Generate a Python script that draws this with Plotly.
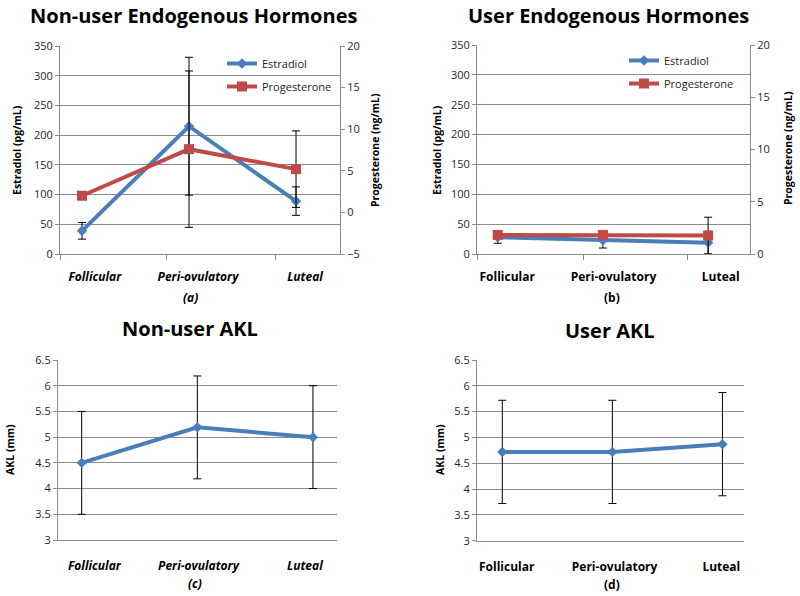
import plotly.graph_objects as go

W, H = 800, 596
phases = ["Follicular", "Peri-ovulatory", "Luteal"]
xi = [0, 1, 2]

# Panel (a) non-user hormones
estr_a = [39, 215, 89]
estr_a_err = [14, 116, 24]
prog_a = [2.0, 7.6, 5.2]
prog_a_err = [0, 9.4, 4.6]
# Panel (b) user hormones
estr_b = [28, 23, 19]
estr_b_err = [10, 13, 19]
prog_b = [1.83, 1.83, 1.76]
prog_b_err = [0, 0, 1.76]
# Panel (c)/(d) AKL
akl_c = [4.5, 5.19, 5.0]
akl_c_err = [1.0, 1.0, 1.0]
akl_d = [4.72, 4.72, 4.87]
akl_d_err = [1.0, 1.0, 1.0]

BLUE = "#4a7ebb"
RED = "#be4b48"
GRID = "#8c8c8c"
TXT = "#262626"
FONT = "Open Sans"


def px(x):
    return x / W


def py(y):
    return 1 - y / H


fig = go.Figure()


def add_line(x, y, err, name, color, symbol, msize, xa, ya, legend, showlegend):
    fig.add_trace(go.Scatter(
        x=x, y=y, name=name, mode="lines+markers",
        line=dict(color=color, width=4),
        marker=dict(color=color, symbol=symbol, size=msize),
        error_y=dict(type="data", array=err, color="black", thickness=1, width=4),
        xaxis=xa, yaxis=ya, legend=legend, showlegend=showlegend,
        legendgroup=name + legend,
    ))


add_line(xi, estr_a, estr_a_err, "Estradiol", BLUE, "diamond", 8, "x", "y", "legend", True)
add_line(xi, prog_a, prog_a_err, "Progesterone", RED, "square", 10, "x", "y2", "legend", True)
add_line(xi, estr_b, estr_b_err, "Estradiol", BLUE, "diamond", 8, "x2", "y3", "legend2", True)
add_line(xi, prog_b, prog_b_err, "Progesterone", RED, "square", 10, "x2", "y4", "legend2", True)
add_line(xi, akl_c, akl_c_err, "AKL", BLUE, "diamond", 8, "x3", "y5", "legend", False)
add_line(xi, akl_d, akl_d_err, "AKL", BLUE, "diamond", 8, "x4", "y6", "legend", False)

tickfont = dict(family=FONT, size=11, color=TXT)


def xaxis(dom, rng, labvals, minor, italic, standoff, anchor):
    d = dict(
        domain=dom, range=rng, anchor=anchor, tickmode="array", tickvals=labvals,
        ticktext=phases, automargin=False,
        showgrid=False, zeroline=False, showline=True, linecolor=GRID, linewidth=1,
        ticks="", ticklabelstandoff=standoff,
        tickfont=dict(family=FONT, size=12, color="black", weight="bold",
                      style="italic" if italic else "normal"),
    )
    if minor:
        d["minor"] = dict(tickmode="array", tickvals=minor, ticks="outside", ticklen=5,
                          tickcolor=GRID, showgrid=False)
    return d


def yaxis(dom, rng, dtick, anchor, grid=True, side="left", overlay=None):
    d = dict(
        range=rng, dtick=dtick, tick0=rng[0], anchor=anchor, side=side,
        automargin=False,
        showgrid=grid, gridcolor=GRID, gridwidth=1, zeroline=False,
        showline=True, linecolor=GRID, linewidth=1,
        ticks="outside", ticklen=4, tickcolor=GRID, tickfont=tickfont,
    )
    if overlay:
        d["overlaying"] = overlay
    else:
        d["domain"] = dom
    return d


ya_dom = [py(254), py(46)]
yb_dom = [py(254), py(45)]
yc_dom = [py(540), py(360)]
yd_dom = [py(540.7), py(360)]

fig.update_layout(
    width=W, height=H, margin=dict(l=0, r=0, t=0, b=0, pad=0, autoexpand=False),
    paper_bgcolor="white", plot_bgcolor="white",
    xaxis=xaxis([px(60), px(340)], [-0.2056, 2.411], [0.12, 1.084, 2.084],
                [-0.2056, 0.794, 1.804], True, 12, "y"),
    yaxis=yaxis(ya_dom, [0, 350], 50, "x"),
    yaxis2=yaxis(None, [-5, 20], 5, "x", grid=False, side="right", overlay="y"),
    xaxis2=xaxis([px(477), px(750)], [-0.197, 2.398], [0.09, 1.1, 2.12],
                 [-0.197, 0.811, 1.80], False, 12, "y3"),
    yaxis3=yaxis(yb_dom, [0, 350], 50, "x2"),
    yaxis4=yaxis(None, [0, 20], 5, "x2", grid=False, side="right", overlay="y3"),
    xaxis3=xaxis([px(58), px(337)], [-0.205, 2.208], [0.11, 1.01, 1.93], None, True, 15, "y5"),
    yaxis5=yaxis(yc_dom, [3, 6.5], 0.5, "x3"),
    xaxis4=xaxis([px(477), px(744)], [-0.23, 2.196], [0.04, 1.02, 1.99], None, False, 15, "y6"),
    yaxis6=yaxis(yd_dom, [3, 6.5], 0.5, "x4"),
    legend=dict(x=px(222), y=py(49), xanchor="left", yanchor="top",
                bgcolor="rgba(0,0,0,0)", font=dict(family=FONT, size=11, color=TXT),
                tracegroupgap=4, itemwidth=30),
    legend2=dict(x=px(624), y=py(46), xanchor="left", yanchor="top",
                 bgcolor="rgba(0,0,0,0)", font=dict(family=FONT, size=11, color=TXT),
                 tracegroupgap=4, itemwidth=30),
    showlegend=True,
)

ann = []


def text(x, y, s, size, bold=True, italic=False, angle=0, color="black"):
    ann.append(dict(
        x=px(x), y=py(y), xref="paper", yref="paper", text=s, showarrow=False,
        xanchor="center", yanchor="middle", textangle=angle,
        font=dict(family=FONT, size=size, color=color,
                  weight="bold" if bold else "normal",
                  style="italic" if italic else "normal"),
    ))


# titles
text(193, 16, "Non-user Endogenous Hormones", 20)
text(608, 16, "User Endogenous Hormones", 20)
text(190, 328, "Non-user AKL", 20)
text(610, 330, "User AKL", 20)
# axis titles
text(17, 150, "Estradiol (pg/mL)", 10.5, angle=-90)
text(375, 150, "Progesterone (ng/mL)", 10.5, angle=-90)
text(437, 150, "Estradiol (pg/mL)", 10.5, angle=-90)
text(788, 148, "Progesterone (ng/mL)", 10.5, angle=-90)
text(10, 450, "AKL (mm)", 10.5, angle=-90)
text(440, 450, "AKL (mm)", 10.5, angle=-90)
# sub captions
text(190, 297, "(a)", 12, italic=True)
text(612, 297, "(b)", 12)
text(195, 583, "(c)", 12, italic=True)
text(612, 584, "(d)", 12)

fig.update_layout(annotations=ann)
fig.write_html("out.html", config={"displayModeBar": False},
               post_script="document.body.style.margin='0px';"
                           "document.body.style.overflow='hidden';")
